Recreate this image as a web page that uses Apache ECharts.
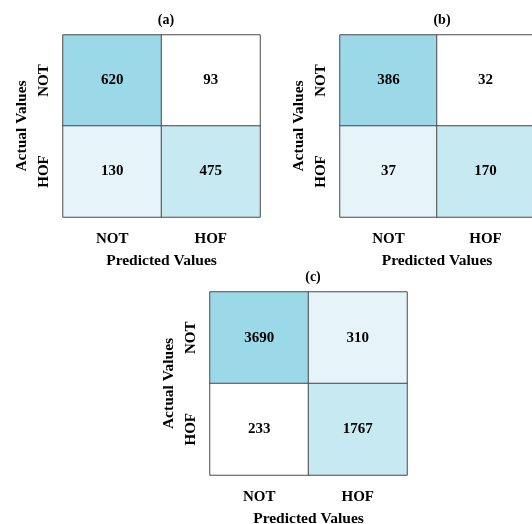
<!DOCTYPE html>
<html>
<head>
<meta charset="utf-8">
<script src="https://cdn.jsdelivr.net/npm/echarts@6/dist/echarts.min.js"></script>
<style>
  html, body { margin: 0; padding: 0; background: #fff; }
  #chart { width: 532px; height: 524px; }
</style>
</head>
<body>
<div id="chart"></div>
<script>
// category labels
const predicted = ["NOT", "HOF"];
const actual = ["NOT", "HOF"];
const panelTitles = ["(a)", "(b)", "(c)"];

// confusion matrices, rows = actual, cols = predicted
const matrixA = [[620, 93], [130, 475]];
const matrixB = [[386, 32], [37, 170]];
const matrixC = [[3690, 310], [233, 1767]];
const matrices = [matrixA, matrixB, matrixC];

// shades by rank, highest value first
const shades = ["#9bd9e9", "#c6e9f2", "#e6f3f9", "#ffffff"];

// grid boxes in px
const boxes = [
  { left: 63, top: 35, width: 197, height: 182 },
  { left: 340, top: 35, width: 194, height: 182 },
  { left: 210, top: 292, width: 197, height: 183 },
];
const titleX = [161, 437, 308];

const font = "Liberation Serif";
const bold = (size) => ({ color: "#000", fontFamily: font, fontWeight: "bold", fontSize: size });

const chart = echarts.init(document.getElementById("chart"));

const grids = [], xAxes = [], yAxes = [], series = [], titles = [];

matrices.forEach((m, i) => {
  const b = boxes[i];
  // keep the boxes where they are even if labels run off the canvas
  grids.push({ left: b.left, top: b.top, width: b.width, height: b.height, outerBoundsMode: "none" });

  xAxes.push({
    type: "category",
    gridIndex: i,
    data: predicted,
    position: "bottom",
    axisLine: { show: false },
    axisTick: { show: false },
    splitLine: { show: false },
    axisLabel: Object.assign({ margin: 15 }, bold(15)),
    name: "Predicted Values",
    nameLocation: "middle",
    nameGap: 36,
    nameTextStyle: bold(15.5),
  });

  yAxes.push({
    type: "category",
    gridIndex: i,
    data: actual,
    inverse: true,
    axisLine: { show: false },
    axisTick: { show: false },
    splitLine: { show: false },
    axisLabel: Object.assign({ margin: 11, rotate: 90 }, bold(15)),
    name: "Actual Values",
    nameLocation: "middle",
    nameGap: 33,
    nameTextStyle: bold(15.5),
  });

  const flat = [];
  m.forEach((row) => row.forEach((v) => flat.push(v)));
  const sorted = flat.slice().sort((p, q) => q - p);

  const data = [];
  m.forEach((row, r) => {
    row.forEach((v, c) => {
      data.push({
        value: [c, r, v],
        itemStyle: { color: shades[sorted.indexOf(v)] },
      });
    });
  });

  series.push({
    type: "heatmap",
    xAxisIndex: i,
    yAxisIndex: i,
    data: data,
    itemStyle: { borderColor: "#4a4a4a", borderWidth: 1 },
    label: Object.assign({ show: true, formatter: (p) => p.value[2] }, bold(15)),
    emphasis: { disabled: true },
  });

  titles.push({
    text: panelTitles[i],
    left: titleX[i],
    top: b.top - 27,
    textAlign: "center",
    textStyle: bold(14),
  });
});

chart.setOption({
  backgroundColor: "#fff",
  animation: false,
  title: titles,
  grid: grids,
  xAxis: xAxes,
  yAxis: yAxes,
  series: series,
});
</script>
</body>
</html>
